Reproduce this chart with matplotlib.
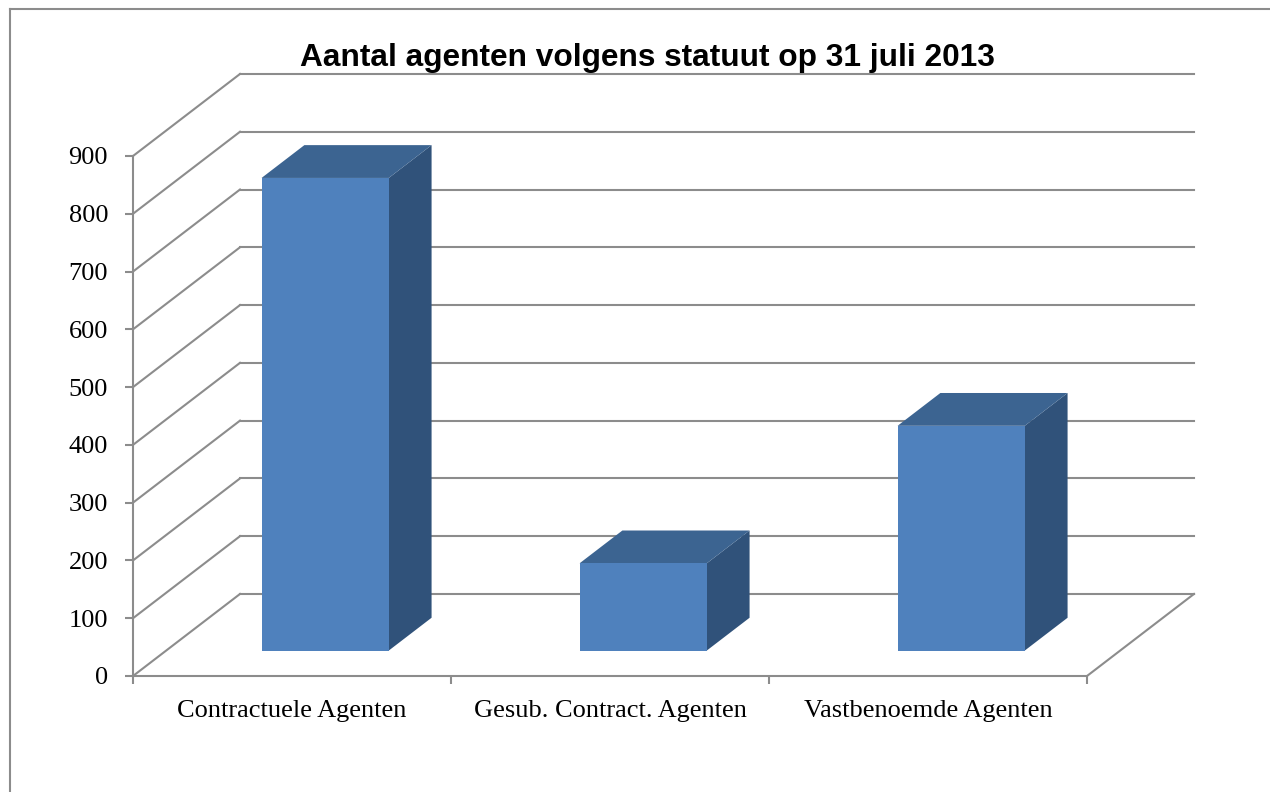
import matplotlib.pyplot as plt
from matplotlib.patches import Polygon
from matplotlib.lines import Line2D

# Data
categories = ["Contractuele Agenten", "Gesub. Contract. Agenten", "Vastbenoemde Agenten"]
values = [818, 151, 389]
y_ticks = [0, 100, 200, 300, 400, 500, 600, 700, 800, 900]
title = "Aantal agenten volgens statuut op 31 juli 2013"

# Oblique "3D" look: offset of the back wall in data units
DEPTH_X = 0.3365
DEPTH_Y = 142
FRONT_COLOR = "#4f81bd"
TOP_COLOR = "#3c6491"
SIDE_COLOR = "#30527a"
GRID_COLOR = "#8c8c8c"


def proj(x, v, d):
    return (x + d * DEPTH_X, v + d * DEPTH_Y)


fig = plt.figure(figsize=(12.7, 7.92), dpi=100)
ax = fig.add_axes([133 / 1270, 116 / 792, 954 / 1270, 520 / 792])
ax.set_xlim(0, len(categories))
ax.set_ylim(0, 900)

# back wall gridlines and left wall diagonals
for v in y_ticks:
    p0, p1 = proj(0, v, 1), proj(len(categories), v, 1)
    ax.add_line(Line2D([p0[0], p1[0]], [p0[1], p1[1]], color=GRID_COLOR, lw=1.5, clip_on=False, zorder=1))
    q0, q1 = proj(0, v, 0), proj(0, v, 1)
    ax.add_line(Line2D([q0[0], q1[0]], [q0[1], q1[1]], color=GRID_COLOR, lw=1.5, clip_on=False, zorder=1))
# floor right edge
r0, r1 = proj(len(categories), 0, 0), proj(len(categories), 0, 1)
ax.add_line(Line2D([r0[0], r1[0]], [r0[1], r1[1]], color=GRID_COLOR, lw=1.5, clip_on=False, zorder=1))

# bars as boxes: front, side, top
d0, d1 = 0.31, 0.71
for i, v in enumerate(values):
    x0, x1 = i + 0.3, i + 0.7
    front = [proj(x0, 0, d0), proj(x1, 0, d0), proj(x1, v, d0), proj(x0, v, d0)]
    side = [proj(x1, 0, d0), proj(x1, 0, d1), proj(x1, v, d1), proj(x1, v, d0)]
    top = [proj(x0, v, d0), proj(x1, v, d0), proj(x1, v, d1), proj(x0, v, d1)]
    for pts, c in [(side, SIDE_COLOR), (top, TOP_COLOR), (front, FRONT_COLOR)]:
        ax.add_patch(Polygon(pts, closed=True, facecolor=c, edgecolor="none", clip_on=False, zorder=3))

# axes styling
for s in ["top", "right"]:
    ax.spines[s].set_visible(False)
for s in ["left", "bottom"]:
    ax.spines[s].set_color(GRID_COLOR)
    ax.spines[s].set_linewidth(1.5)
    ax.spines[s].set_zorder(2)

ax.set_yticks(y_ticks)
ax.set_yticklabels([str(t) for t in y_ticks], fontsize=19, family="Liberation Serif")
ax.tick_params(axis="y", length=6, width=1.5, color=GRID_COLOR, pad=12)

ax.set_xticks(range(len(categories) + 1))
ax.set_xticklabels([])
ax.set_xticks([i + 0.5 for i in range(len(categories))], minor=True)
ax.set_xticklabels(categories, minor=True, fontsize=19, family="Liberation Serif")
ax.tick_params(axis="x", which="minor", length=0, pad=17)
ax.tick_params(axis="x", which="major", length=6, width=1.5, color=GRID_COLOR)

fig.text(0.51, 1 - 66 / 792, title, ha="center", va="baseline",
         fontsize=22.8, fontweight="bold", family="Liberation Sans")

# outer frame (top and left edges)
fig.add_artist(Line2D([10 / 1270, 1], [1 - 9 / 792, 1 - 9 / 792], transform=fig.transFigure,
                      color=GRID_COLOR, lw=1.5))
fig.add_artist(Line2D([10 / 1270, 10 / 1270], [0, 1 - 9 / 792], transform=fig.transFigure,
                      color=GRID_COLOR, lw=1.5))

fig.savefig("out.png", dpi=100)
